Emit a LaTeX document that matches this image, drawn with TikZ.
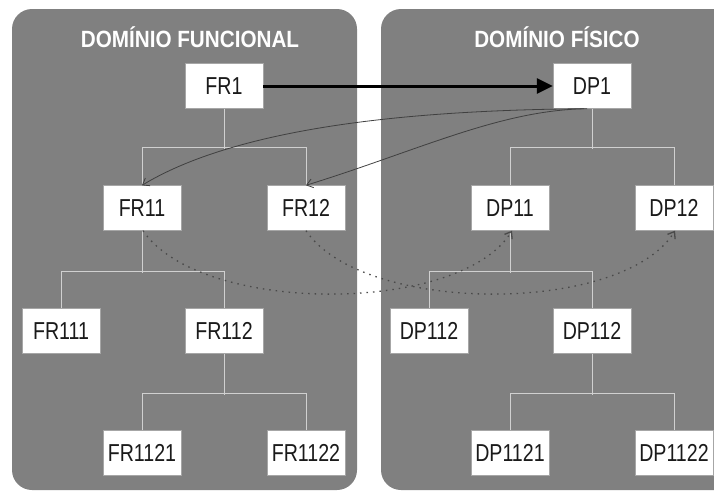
\documentclass[tikz,border=0pt]{standalone}
\usepackage{fontspec}
\setmainfont{Liberation Sans}
\usetikzlibrary{arrows.meta,calc}
\definecolor{panelgray}{HTML}{808080}
\definecolor{treegray}{HTML}{D0D0D0}
\definecolor{linkgray}{HTML}{404040}
\definecolor{dotgray}{HTML}{4A4A4A}
\definecolor{textdark}{HTML}{1A1A1A}
\begin{document}
\begin{tikzpicture}[x=1pt,y=-1pt,
  panel/.style={fill=panelgray,draw=none,rounded corners=20pt},
  title/.style={text=white,font=\fontsize{23.5}{23.5}\selectfont\bfseries,inner sep=0pt},
  box/.style={fill=white,draw=gray!70,line width=0.4pt,minimum width=78pt,minimum height=45pt,inner sep=0pt,text=textdark,font=\fontsize{24.5}{24.5}\selectfont},
  tree/.style={draw=treegray,line width=0.9pt},
  mainlink/.style={draw=black,line width=3pt,-{Triangle[length=16pt,width=15pt]}},
  backlink/.style={draw=linkgray,line width=0.8pt,-{Straight Barb[length=6pt,width=9pt]}},
  dotlink/.style={draw=dotgray,line width=1.3pt,dash pattern=on 1.5pt off 5pt,-{Straight Barb[length=6pt,width=9pt]}}
]
\useasboundingbox (0,0) rectangle (714,490);
\begin{scope}
\clip (0,0) rectangle (714,490);
\fill[panel] (12,9) rectangle (357,490);
\fill[panel] (381,9) rectangle (740,490);
\end{scope}
\node[title] (t1) at (190,37) {\scalebox{0.88}[1]{DOMÍNIO FUNCIONAL}};
\node[title] (t2) at (557,37) {\scalebox{0.88}[1]{DOMÍNIO FÍSICO}};
% functional
\node[box] (FR1) at (224,86) {\scalebox{0.8}[1]{FR1}};
\node[box] (FR11) at (142,208) {\scalebox{0.8}[1]{FR11}};
\node[box] (FR12) at (306,208) {\scalebox{0.8}[1]{FR12}};
\node[box] (FR111) at (61,331) {\scalebox{0.8}[1]{FR111}};
\node[box] (FR112) at (224,331) {\scalebox{0.8}[1]{FR112}};
\node[box] (FR1121) at (142,453) {\scalebox{0.8}[1]{FR1121}};
\node[box] (FR1122) at (306,453) {\scalebox{0.8}[1]{FR1122}};
% physical
\node[box] (DP1) at (592,86) {\scalebox{0.8}[1]{DP1}};
\node[box] (DP11) at (510,208) {\scalebox{0.8}[1]{DP11}};
\node[box] (DP12) at (674,208) {\scalebox{0.8}[1]{DP12}};
\node[box] (DP112a) at (429,331) {\scalebox{0.8}[1]{DP112}};
\node[box] (DP112) at (592,331) {\scalebox{0.8}[1]{DP112}};
\node[box] (DP1121) at (510,453) {\scalebox{0.8}[1]{DP1121}};
\node[box] (DP1122) at (674,453) {\scalebox{0.8}[1]{DP1122}};
% tree lines
\draw[tree] (FR1.south) -- ++(0,40);
\draw[tree] (FR11.north) -- ++(0,-38) -| (FR12.north);
\draw[tree] (FR11.south) -- ++(0,42);
\draw[tree] (FR111.north) -- ++(0,-37) -| (FR112.north);
\draw[tree] (FR112.south) -- ++(0,41);
\draw[tree] (FR1121.north) -- ++(0,-37) -| (FR1122.north);
\draw[tree] (DP1.south) -- ++(0,40);
\draw[tree] (DP11.north) -- ++(0,-38) -| (DP12.north);
\draw[tree] (DP11.south) -- ++(0,42);
\draw[tree] (DP112a.north) -- ++(0,-37) -| (DP112.north);
\draw[tree] (DP112.south) -- ++(0,41);
\draw[tree] (DP1121.north) -- ++(0,-37) -| (DP1122.north);
% links
\draw[mainlink] (FR1.east) -- (DP1.west);
\draw[backlink] ([xshift=-8pt]DP1.south) .. controls (450,110) and (250,120) .. (FR11.north);
\draw[backlink] ([xshift=-5pt]DP1.south) .. controls (500,110) and (420,150) .. (FR12.north);
\draw[dotlink] ([xshift=1pt]FR11.south) .. controls (200,315) and (460,315) .. ([xshift=2pt]DP11.south);
\draw[dotlink] (FR12.south) .. controls (363,315) and (623,315) .. ([xshift=1pt]DP12.south);
\end{tikzpicture}
\end{document}
